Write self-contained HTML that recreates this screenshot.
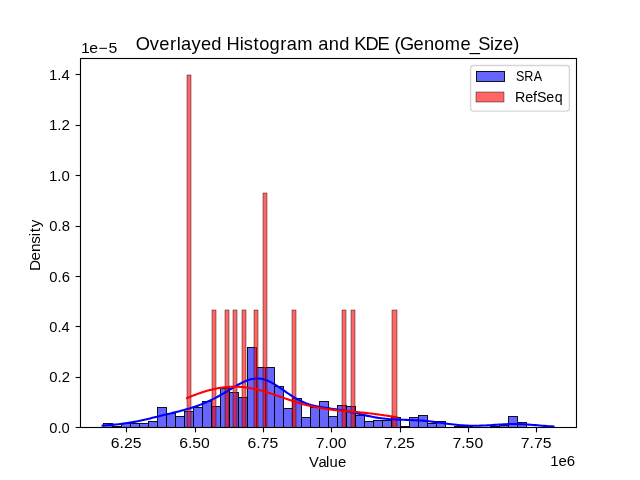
<!DOCTYPE html>
<html><head><meta charset="utf-8"><style>
html,body{margin:0;padding:0;background:#fff;width:640px;height:480px;overflow:hidden;font-family:"Liberation Sans",sans-serif}
svg{display:block;will-change:transform}
</style></head><body>
<svg width="640" height="480" viewBox="0 0 640 480">
<rect x="0" y="0" width="640" height="480" fill="#fff"/>
<rect x="103.5" y="423.5" width="9.0" height="4.0" fill="#0000ff" fill-opacity="0.6" stroke="#000" stroke-width="0.9"/>
<rect x="112.5" y="426.5" width="9.0" height="1.0" fill="#0000ff" fill-opacity="0.6" stroke="#000" stroke-width="0.9"/>
<rect x="121.5" y="423.5" width="9.0" height="4.0" fill="#0000ff" fill-opacity="0.6" stroke="#000" stroke-width="0.9"/>
<rect x="130.5" y="423.5" width="9.0" height="4.0" fill="#0000ff" fill-opacity="0.6" stroke="#000" stroke-width="0.9"/>
<rect x="139.5" y="423.5" width="9.0" height="4.0" fill="#0000ff" fill-opacity="0.6" stroke="#000" stroke-width="0.9"/>
<rect x="148.5" y="421.5" width="9.0" height="6.0" fill="#0000ff" fill-opacity="0.6" stroke="#000" stroke-width="0.9"/>
<rect x="157.5" y="407.5" width="9.0" height="20.0" fill="#0000ff" fill-opacity="0.6" stroke="#000" stroke-width="0.9"/>
<rect x="166.5" y="413.5" width="9.0" height="14.0" fill="#0000ff" fill-opacity="0.6" stroke="#000" stroke-width="0.9"/>
<rect x="175.5" y="416.5" width="9.0" height="11.0" fill="#0000ff" fill-opacity="0.6" stroke="#000" stroke-width="0.9"/>
<rect x="184.5" y="411.5" width="9.0" height="16.0" fill="#0000ff" fill-opacity="0.6" stroke="#000" stroke-width="0.9"/>
<rect x="193.5" y="407.5" width="9.0" height="20.0" fill="#0000ff" fill-opacity="0.6" stroke="#000" stroke-width="0.9"/>
<rect x="202.5" y="401.5" width="9.0" height="26.0" fill="#0000ff" fill-opacity="0.6" stroke="#000" stroke-width="0.9"/>
<rect x="211.5" y="406.5" width="9.0" height="21.0" fill="#0000ff" fill-opacity="0.6" stroke="#000" stroke-width="0.9"/>
<rect x="220.5" y="388.5" width="9.0" height="39.0" fill="#0000ff" fill-opacity="0.6" stroke="#000" stroke-width="0.9"/>
<rect x="229.5" y="392.5" width="9.0" height="35.0" fill="#0000ff" fill-opacity="0.6" stroke="#000" stroke-width="0.9"/>
<rect x="238.5" y="397.5" width="9.0" height="30.0" fill="#0000ff" fill-opacity="0.6" stroke="#000" stroke-width="0.9"/>
<rect x="247.5" y="347.5" width="9.0" height="80.0" fill="#0000ff" fill-opacity="0.6" stroke="#000" stroke-width="0.9"/>
<rect x="256.5" y="367.5" width="9.0" height="60.0" fill="#0000ff" fill-opacity="0.6" stroke="#000" stroke-width="0.9"/>
<rect x="265.5" y="367.5" width="9.0" height="60.0" fill="#0000ff" fill-opacity="0.6" stroke="#000" stroke-width="0.9"/>
<rect x="274.5" y="386.5" width="9.0" height="41.0" fill="#0000ff" fill-opacity="0.6" stroke="#000" stroke-width="0.9"/>
<rect x="283.5" y="408.5" width="9.0" height="19.0" fill="#0000ff" fill-opacity="0.6" stroke="#000" stroke-width="0.9"/>
<rect x="292.5" y="398.5" width="9.0" height="29.0" fill="#0000ff" fill-opacity="0.6" stroke="#000" stroke-width="0.9"/>
<rect x="301.5" y="417.5" width="9.0" height="10.0" fill="#0000ff" fill-opacity="0.6" stroke="#000" stroke-width="0.9"/>
<rect x="310.5" y="407.5" width="9.0" height="20.0" fill="#0000ff" fill-opacity="0.6" stroke="#000" stroke-width="0.9"/>
<rect x="319.5" y="401.5" width="9.0" height="26.0" fill="#0000ff" fill-opacity="0.6" stroke="#000" stroke-width="0.9"/>
<rect x="328.5" y="416.5" width="9.0" height="11.0" fill="#0000ff" fill-opacity="0.6" stroke="#000" stroke-width="0.9"/>
<rect x="337.5" y="405.5" width="9.0" height="22.0" fill="#0000ff" fill-opacity="0.6" stroke="#000" stroke-width="0.9"/>
<rect x="346.5" y="406.5" width="9.0" height="21.0" fill="#0000ff" fill-opacity="0.6" stroke="#000" stroke-width="0.9"/>
<rect x="355.5" y="415.5" width="9.0" height="12.0" fill="#0000ff" fill-opacity="0.6" stroke="#000" stroke-width="0.9"/>
<rect x="364.5" y="421.5" width="9.0" height="6.0" fill="#0000ff" fill-opacity="0.6" stroke="#000" stroke-width="0.9"/>
<rect x="373.5" y="420.5" width="9.0" height="7.0" fill="#0000ff" fill-opacity="0.6" stroke="#000" stroke-width="0.9"/>
<rect x="382.5" y="420.5" width="9.0" height="7.0" fill="#0000ff" fill-opacity="0.6" stroke="#000" stroke-width="0.9"/>
<rect x="391.5" y="417.5" width="9.0" height="10.0" fill="#0000ff" fill-opacity="0.6" stroke="#000" stroke-width="0.9"/>
<rect x="400.5" y="426.5" width="9.0" height="1.0" fill="#0000ff" fill-opacity="0.6" stroke="#000" stroke-width="0.9"/>
<rect x="409.5" y="417.5" width="9.0" height="10.0" fill="#0000ff" fill-opacity="0.6" stroke="#000" stroke-width="0.9"/>
<rect x="418.5" y="415.5" width="9.0" height="12.0" fill="#0000ff" fill-opacity="0.6" stroke="#000" stroke-width="0.9"/>
<rect x="427.5" y="423.5" width="9.0" height="4.0" fill="#0000ff" fill-opacity="0.6" stroke="#000" stroke-width="0.9"/>
<rect x="436.5" y="421.5" width="9.0" height="6.0" fill="#0000ff" fill-opacity="0.6" stroke="#000" stroke-width="0.9"/>
<rect x="454.5" y="426.5" width="9.0" height="1.0" fill="#0000ff" fill-opacity="0.6" stroke="#000" stroke-width="0.9"/>
<rect x="463.5" y="426.5" width="9.0" height="1.0" fill="#0000ff" fill-opacity="0.6" stroke="#000" stroke-width="0.9"/>
<rect x="490.5" y="426.5" width="9.0" height="1.0" fill="#0000ff" fill-opacity="0.6" stroke="#000" stroke-width="0.9"/>
<rect x="499.5" y="425.5" width="9.0" height="2.0" fill="#0000ff" fill-opacity="0.6" stroke="#000" stroke-width="0.9"/>
<rect x="508.5" y="416.5" width="9.0" height="11.0" fill="#0000ff" fill-opacity="0.6" stroke="#000" stroke-width="0.9"/>
<rect x="517.5" y="422.5" width="9.0" height="5.0" fill="#0000ff" fill-opacity="0.6" stroke="#000" stroke-width="0.9"/>
<rect x="544.5" y="426.5" width="9.0" height="1.0" fill="#0000ff" fill-opacity="0.6" stroke="#000" stroke-width="0.9"/>
<rect x="187" y="75" width="4" height="352.2" fill="#ff0000" fill-opacity="0.6" stroke="#000" stroke-width="0.42"/>
<rect x="212" y="310" width="4" height="117.19999999999999" fill="#ff0000" fill-opacity="0.6" stroke="#000" stroke-width="0.42"/>
<rect x="225" y="310" width="4" height="117.19999999999999" fill="#ff0000" fill-opacity="0.6" stroke="#000" stroke-width="0.42"/>
<rect x="233" y="310" width="4" height="117.19999999999999" fill="#ff0000" fill-opacity="0.6" stroke="#000" stroke-width="0.42"/>
<rect x="242" y="310" width="4" height="117.19999999999999" fill="#ff0000" fill-opacity="0.6" stroke="#000" stroke-width="0.42"/>
<rect x="254" y="310" width="4" height="117.19999999999999" fill="#ff0000" fill-opacity="0.6" stroke="#000" stroke-width="0.42"/>
<rect x="263" y="193" width="4" height="234.2" fill="#ff0000" fill-opacity="0.6" stroke="#000" stroke-width="0.42"/>
<rect x="292" y="310" width="4" height="117.19999999999999" fill="#ff0000" fill-opacity="0.6" stroke="#000" stroke-width="0.42"/>
<rect x="342" y="310" width="4" height="117.19999999999999" fill="#ff0000" fill-opacity="0.6" stroke="#000" stroke-width="0.42"/>
<rect x="351" y="310" width="4" height="117.19999999999999" fill="#ff0000" fill-opacity="0.6" stroke="#000" stroke-width="0.42"/>
<rect x="392" y="310" width="5" height="117.19999999999999" fill="#ff0000" fill-opacity="0.6" stroke="#000" stroke-width="0.42"/>
<polyline points="102.55,425.61 104.82,425.44 107.08,425.26 109.35,425.07 111.61,424.86 113.88,424.65 116.14,424.42 118.41,424.17 120.68,423.91 122.94,423.62 125.21,423.31 127.47,422.98 129.74,422.63 132.01,422.25 134.27,421.85 136.54,421.42 138.80,420.96 141.07,420.49 143.33,419.99 145.60,419.47 147.87,418.94 150.13,418.40 152.40,417.84 154.66,417.29 156.93,416.73 159.20,416.17 161.46,415.61 163.73,415.06 165.99,414.51 168.26,413.96 170.52,413.41 172.79,412.87 175.06,412.31 177.32,411.75 179.59,411.18 181.85,410.59 184.12,409.98 186.39,409.35 188.65,408.69 190.92,408.00 193.18,407.27 195.45,406.51 197.71,405.70 199.98,404.86 202.25,403.97 204.51,403.04 206.78,402.06 209.04,401.03 211.31,399.96 213.58,398.84 215.84,397.67 218.11,396.46 220.37,395.20 222.64,393.91 224.90,392.58 227.17,391.23 229.44,389.86 231.70,388.49 233.97,387.14 236.23,385.81 238.50,384.53 240.77,383.32 243.03,382.20 245.30,381.19 247.56,380.31 249.83,379.59 252.09,379.05 254.36,378.69 256.63,378.53 258.89,378.57 261.16,378.83 263.42,379.30 265.69,379.97 267.96,380.83 270.22,381.86 272.49,383.05 274.75,384.37 277.02,385.80 279.28,387.31 281.55,388.87 283.82,390.45 286.08,392.04 288.35,393.60 290.61,395.12 292.88,396.58 295.15,397.96 297.41,399.25 299.68,400.44 301.94,401.54 304.21,402.53 306.47,403.41 308.74,404.21 311.01,404.91 313.27,405.52 315.54,406.06 317.80,406.54 320.07,406.97 322.34,407.35 324.60,407.70 326.87,408.03 329.13,408.35 331.40,408.66 333.66,408.98 335.93,409.31 338.20,409.66 340.46,410.03 342.73,410.42 344.99,410.84 347.26,411.28 349.53,411.74 351.79,412.23 354.06,412.74 356.32,413.26 358.59,413.79 360.85,414.32 363.12,414.84 365.39,415.36 367.65,415.86 369.92,416.34 372.18,416.79 374.45,417.21 376.72,417.60 378.98,417.95 381.25,418.27 383.51,418.55 385.78,418.79 388.04,419.00 390.31,419.18 392.58,419.33 394.84,419.45 397.11,419.56 399.37,419.64 401.64,419.72 403.91,419.79 406.17,419.86 408.44,419.93 410.70,420.01 412.97,420.10 415.23,420.21 417.50,420.34 419.77,420.48 422.03,420.65 424.30,420.85 426.56,421.07 428.83,421.31 431.10,421.57 433.36,421.85 435.63,422.14 437.89,422.44 440.16,422.76 442.42,423.07 444.69,423.38 446.96,423.69 449.22,423.98 451.49,424.26 453.75,424.53 456.02,424.77 458.29,424.99 460.55,425.19 462.82,425.36 465.08,425.50 467.35,425.61 469.61,425.69 471.88,425.74 474.15,425.76 476.41,425.75 478.68,425.72 480.94,425.66 483.21,425.57 485.48,425.46 487.74,425.34 490.01,425.19 492.27,425.04 494.54,424.89 496.80,424.73 499.07,424.57 501.34,424.43 503.60,424.30 505.87,424.19 508.13,424.10 510.40,424.04 512.67,424.01 514.93,424.01 517.20,424.04 519.46,424.10 521.73,424.19 523.99,424.30 526.26,424.44 528.53,424.59 530.79,424.76 533.06,424.94 535.32,425.13 537.59,425.32 539.86,425.50 542.12,425.68 544.39,425.85 546.65,426.02 548.92,426.17 551.18,426.30 553.45,426.43" fill="none" stroke="#0000ff" stroke-width="2.083" stroke-linejoin="round" stroke-linecap="square"/>
<polyline points="187.10,398.05 188.15,397.60 189.21,397.17 190.26,396.73 191.31,396.31 192.36,395.89 193.42,395.48 194.47,395.07 195.52,394.67 196.57,394.28 197.63,393.89 198.68,393.52 199.73,393.15 200.79,392.79 201.84,392.44 202.89,392.09 203.94,391.76 205.00,391.43 206.05,391.12 207.10,390.81 208.16,390.52 209.21,390.23 210.26,389.95 211.31,389.69 212.37,389.43 213.42,389.18 214.47,388.95 215.52,388.73 216.58,388.51 217.63,388.31 218.68,388.12 219.74,387.94 220.79,387.78 221.84,387.62 222.89,387.48 223.95,387.35 225.00,387.23 226.05,387.12 227.11,387.03 228.16,386.94 229.21,386.87 230.26,386.82 231.32,386.77 232.37,386.74 233.42,386.72 234.47,386.71 235.53,386.72 236.58,386.73 237.63,386.76 238.69,386.81 239.74,386.86 240.79,386.93 241.84,387.01 242.90,387.11 243.95,387.21 245.00,387.33 246.05,387.46 247.11,387.60 248.16,387.75 249.21,387.92 250.27,388.10 251.32,388.28 252.37,388.48 253.42,388.69 254.48,388.91 255.53,389.14 256.58,389.39 257.64,389.64 258.69,389.90 259.74,390.17 260.79,390.45 261.85,390.73 262.90,391.03 263.95,391.33 265.00,391.64 266.06,391.96 267.11,392.28 268.16,392.61 269.22,392.95 270.27,393.29 271.32,393.64 272.37,393.99 273.43,394.34 274.48,394.70 275.53,395.06 276.58,395.43 277.64,395.79 278.69,396.16 279.74,396.53 280.80,396.90 281.85,397.27 282.90,397.64 283.95,398.01 285.01,398.38 286.06,398.75 287.11,399.11 288.17,399.48 289.22,399.84 290.27,400.20 291.32,400.55 292.38,400.90 293.43,401.25 294.48,401.59 295.53,401.93 296.59,402.26 297.64,402.59 298.69,402.91 299.75,403.23 300.80,403.54 301.85,403.84 302.90,404.14 303.96,404.43 305.01,404.71 306.06,404.99 307.12,405.26 308.17,405.52 309.22,405.78 310.27,406.03 311.33,406.27 312.38,406.50 313.43,406.73 314.48,406.95 315.54,407.17 316.59,407.37 317.64,407.57 318.70,407.77 319.75,407.95 320.80,408.14 321.85,408.31 322.91,408.48 323.96,408.64 325.01,408.80 326.06,408.95 327.12,409.09 328.17,409.23 329.22,409.37 330.28,409.50 331.33,409.63 332.38,409.75 333.43,409.87 334.49,409.98 335.54,410.09 336.59,410.20 337.65,410.31 338.70,410.41 339.75,410.51 340.80,410.61 341.86,410.71 342.91,410.81 343.96,410.90 345.01,411.00 346.07,411.09 347.12,411.18 348.17,411.27 349.23,411.37 350.28,411.46 351.33,411.55 352.38,411.64 353.44,411.74 354.49,411.83 355.54,411.93 356.59,412.03 357.65,412.13 358.70,412.23 359.75,412.33 360.81,412.43 361.86,412.54 362.91,412.64 363.96,412.75 365.02,412.86 366.07,412.98 367.12,413.09 368.18,413.21 369.23,413.33 370.28,413.46 371.33,413.58 372.39,413.71 373.44,413.84 374.49,413.97 375.54,414.11 376.60,414.24 377.65,414.38 378.70,414.53 379.76,414.67 380.81,414.82 381.86,414.97 382.91,415.12 383.97,415.27 385.02,415.42 386.07,415.58 387.13,415.74 388.18,415.90 389.23,416.06 390.28,416.22 391.34,416.39 392.39,416.56 393.44,416.72 394.49,416.89 395.55,417.06 396.60,417.23" fill="none" stroke="#ff0000" stroke-width="2.083" stroke-linejoin="round" stroke-linecap="square"/>
<rect x="80.5" y="58.5" width="496" height="369" fill="none" stroke="#000" stroke-width="1.11"/>
<line x1="126.5" y1="427.5" x2="126.5" y2="432.36" stroke="#000" stroke-width="1.11"/>
<line x1="195.5" y1="427.5" x2="195.5" y2="432.36" stroke="#000" stroke-width="1.11"/>
<line x1="263.5" y1="427.5" x2="263.5" y2="432.36" stroke="#000" stroke-width="1.11"/>
<line x1="331.5" y1="427.5" x2="331.5" y2="432.36" stroke="#000" stroke-width="1.11"/>
<line x1="400.5" y1="427.5" x2="400.5" y2="432.36" stroke="#000" stroke-width="1.11"/>
<line x1="468.5" y1="427.5" x2="468.5" y2="432.36" stroke="#000" stroke-width="1.11"/>
<line x1="536.5" y1="427.5" x2="536.5" y2="432.36" stroke="#000" stroke-width="1.11"/>
<line x1="75.64" y1="427.5" x2="80.5" y2="427.5" stroke="#000" stroke-width="1.11"/>
<line x1="75.64" y1="377.5" x2="80.5" y2="377.5" stroke="#000" stroke-width="1.11"/>
<line x1="75.64" y1="326.5" x2="80.5" y2="326.5" stroke="#000" stroke-width="1.11"/>
<line x1="75.64" y1="276.5" x2="80.5" y2="276.5" stroke="#000" stroke-width="1.11"/>
<line x1="75.64" y1="226.5" x2="80.5" y2="226.5" stroke="#000" stroke-width="1.11"/>
<line x1="75.64" y1="175.5" x2="80.5" y2="175.5" stroke="#000" stroke-width="1.11"/>
<line x1="75.64" y1="125.5" x2="80.5" y2="125.5" stroke="#000" stroke-width="1.11"/>
<line x1="75.64" y1="74.5" x2="80.5" y2="74.5" stroke="#000" stroke-width="1.11"/>
<text transform="scale(1.0718,1)" x="103.42 111.60 115.68 123.86" y="447.60" font-family="Liberation Sans, sans-serif" font-size="14.7">6.25</text>
<text transform="scale(1.0718,1)" x="167.17 175.35 179.43 187.61" y="447.60" font-family="Liberation Sans, sans-serif" font-size="14.7">6.50</text>
<text transform="scale(1.0718,1)" x="230.93 239.10 243.19 251.36" y="447.60" font-family="Liberation Sans, sans-serif" font-size="14.7">6.75</text>
<text transform="scale(1.0758,1)" x="293.50 301.67 305.76 313.93" y="447.60" font-family="Liberation Sans, sans-serif" font-size="14.7">7.00</text>
<text transform="scale(1.0758,1)" x="357.02 365.19 369.28 377.45" y="447.60" font-family="Liberation Sans, sans-serif" font-size="14.7">7.25</text>
<text transform="scale(1.0758,1)" x="420.54 428.71 432.80 440.97" y="447.60" font-family="Liberation Sans, sans-serif" font-size="14.7">7.50</text>
<text transform="scale(1.0758,1)" x="484.06 492.23 496.32 504.49" y="447.60" font-family="Liberation Sans, sans-serif" font-size="14.7">7.75</text>
<text transform="scale(1.0021,1)" x="49.20 57.37 61.46" y="432.80" font-family="Liberation Sans, sans-serif" font-size="14.7">0.0</text>
<text transform="scale(1.0126,1)" x="48.68 56.86 60.94" y="382.38" font-family="Liberation Sans, sans-serif" font-size="14.7">0.2</text>
<text transform="scale(0.9969,1)" x="49.46 57.63 61.72" y="331.96" font-family="Liberation Sans, sans-serif" font-size="14.7">0.4</text>
<text transform="scale(1.0073,1)" x="48.94 57.11 61.20" y="281.54" font-family="Liberation Sans, sans-serif" font-size="14.7">0.6</text>
<text transform="scale(1.0073,1)" x="48.94 57.11 61.20" y="231.12" font-family="Liberation Sans, sans-serif" font-size="14.7">0.8</text>
<text transform="scale(1.0181,1)" x="48.11 56.29 60.37" y="180.70" font-family="Liberation Sans, sans-serif" font-size="14.7">1.0</text>
<text transform="scale(1.0291,1)" x="47.58 55.76 59.85" y="130.28" font-family="Liberation Sans, sans-serif" font-size="14.7">1.2</text>
<text transform="scale(1.0127,1)" x="48.37 56.55 60.63" y="79.86" font-family="Liberation Sans, sans-serif" font-size="14.7">1.4</text>
<text transform="scale(1.0774,1)" x="75.24 82.84 91.47 100.62" y="52.70" font-family="Liberation Sans, sans-serif" font-size="14.7">1e−5</text>
<text transform="scale(1.0194,1)" x="539.71 547.84 555.97" y="465.60" font-family="Liberation Sans, sans-serif" font-size="14.7">1e6</text>
<text transform="scale(1.0087,1)" x="306.32 315.76 323.10 326.71 335.01" y="466.60" font-family="Liberation Sans, sans-serif" font-size="14.7">Value</text>
<text transform="translate(40.0,271.65) rotate(-90) scale(1.0423,1)" x="0.62 10.77 18.82 26.68 33.87 37.78 42.49" y="0.00" font-family="Liberation Sans, sans-serif" font-size="14.7">Density</text>
<text transform="scale(1.0390,1)" x="130.77 144.23 153.37 163.53 170.01 174.18 184.29 193.43 203.41 213.47 218.10 230.72 234.66 243.90 249.47 259.42 269.73 275.95 286.18 301.38 306.36 316.32 326.44 336.50 340.85 351.75 363.43 374.43 379.60 384.99 398.04 408.01 417.96 428.18 443.31 452.21 460.30 471.50 475.46 484.07 494.06" y="49.60" font-family="Liberation Sans, sans-serif" font-size="17.6">Overlayed Histogram and KDE (Genome_Size)</text>
<rect x="470.56" y="65.5" width="98.85" height="45.6" rx="2.78" ry="2.78" fill="#fff" fill-opacity="0.8" stroke="#cccccc" stroke-opacity="0.8" stroke-width="1.39"/>
<rect x="476.5" y="71.5" width="28" height="10" fill="#0000ff" fill-opacity="0.6" stroke="#000" stroke-width="0.9"/>
<rect x="476" y="92" width="28" height="10" fill="#ff0000" fill-opacity="0.6" stroke="#000" stroke-width="0.42"/>
<text transform="scale(0.8511,1)" x="606.29 616.07 627.04" y="80.60" font-family="Liberation Sans, sans-serif" font-size="14.7">SRA</text>
<text transform="scale(0.9714,1)" x="530.21 540.61 548.79 552.84 562.41 571.16" y="101.70" font-family="Liberation Sans, sans-serif" font-size="14.7">RefSeq</text>
</svg>
</body></html>
